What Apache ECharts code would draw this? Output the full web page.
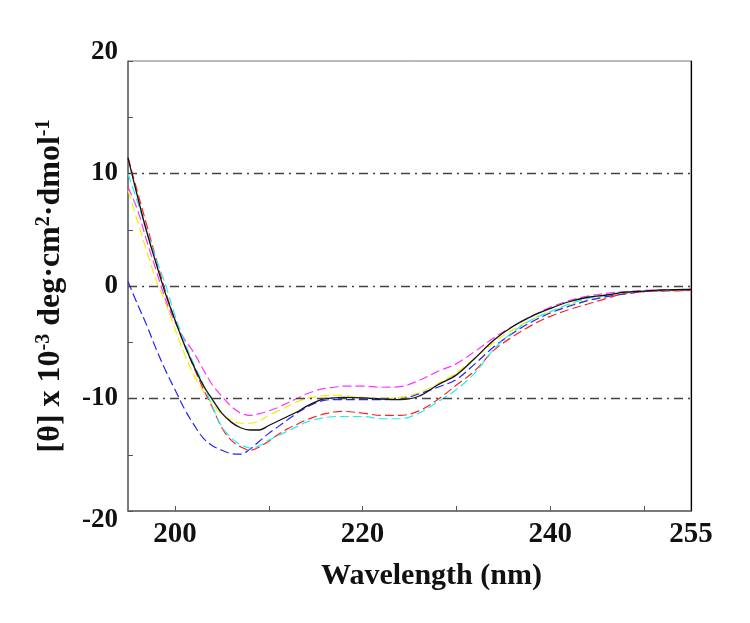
<!DOCTYPE html>
<html>
<head>
<meta charset="utf-8">
<script src="https://cdn.jsdelivr.net/npm/echarts@6/dist/echarts.min.js"></script>
<style>
html,body{margin:0;padding:0;background:#fff;}
#chart{width:750px;height:623px;}
</style>
</head>
<body>
<div id="chart"></div>
<script>
// Wavelength grid (nm)
const wavelengths = [195,196,197,198,199,200,201,202,203,204,205,206,207,208,209,210,211,212,213,214,215,216,217,218,220,222,224,226,228,230,232,234,236,238,240,242,244,246,248,250,252,255];

// Mean residue ellipticity values (x 10^-3 deg·cm²·dmol⁻¹)
const blackSolid = [11.4,8.0,4.8,2.0,-0.7,-3.0,-5.2,-7.1,-8.8,-10.1,-11.3,-12.1,-12.6,-12.8,-12.8,-12.4,-12.0,-11.6,-11.2,-10.7,-10.3,-10.0,-9.95,-9.9,-9.95,-10.05,-10.1,-9.8,-8.8,-7.9,-6.4,-4.8,-3.6,-2.7,-2.0,-1.4,-1.0,-0.8,-0.55,-0.45,-0.35,-0.3];
const magentaDash = [8.8,6.8,4.0,1.4,-1.2,-3.2,-4.7,-5.9,-7.4,-8.8,-9.8,-10.7,-11.3,-11.5,-11.35,-11.1,-10.8,-10.4,-10.0,-9.6,-9.3,-9.1,-9.0,-8.9,-8.9,-9.0,-8.95,-8.4,-7.6,-6.9,-5.8,-4.6,-3.6,-2.7,-1.9,-1.3,-0.9,-0.65,-0.5,-0.4,-0.35,-0.3];
const yellowDash = [8.5,5.8,3.1,0.5,-1.5,-3.8,-6.0,-7.9,-9.3,-10.5,-11.4,-11.9,-12.2,-12.2,-12.0,-11.5,-11.1,-10.7,-10.3,-10.0,-9.85,-9.75,-9.7,-9.75,-9.9,-10.0,-9.9,-9.5,-8.7,-7.7,-6.4,-5.0,-3.9,-3.0,-2.3,-1.7,-1.25,-0.95,-0.7,-0.5,-0.45,-0.4];
const blueDash = [0.4,-1.6,-3.5,-5.6,-7.5,-9.2,-10.9,-12.3,-13.5,-14.2,-14.6,-14.9,-14.95,-14.5,-13.8,-13.1,-12.5,-11.9,-11.3,-10.8,-10.4,-10.15,-10.1,-10.1,-10.1,-10.1,-10.05,-9.6,-9.0,-8.3,-6.9,-5.4,-4.2,-3.2,-2.4,-1.8,-1.3,-0.95,-0.7,-0.5,-0.4,-0.35];
const redDash = [11.4,8.4,5.4,2.4,-0.5,-3.0,-5.2,-7.2,-9.1,-10.8,-12.6,-13.7,-14.3,-14.6,-14.3,-13.8,-13.2,-12.7,-12.3,-11.9,-11.6,-11.35,-11.2,-11.15,-11.3,-11.5,-11.5,-11.1,-10.1,-8.8,-7.5,-5.7,-4.5,-3.5,-2.7,-2.1,-1.6,-1.1,-0.65,-0.5,-0.45,-0.4];
const cyanDash = [10.0,7.5,4.9,2.4,0.1,-2.6,-4.9,-6.9,-8.7,-10.7,-12.5,-13.5,-14.1,-14.4,-14.2,-13.7,-13.3,-12.9,-12.5,-12.1,-11.85,-11.7,-11.6,-11.6,-11.6,-11.8,-11.8,-11.3,-10.3,-9.2,-7.7,-5.6,-4.1,-3.0,-2.3,-1.6,-1.1,-0.8,-0.55,-0.45,-0.35,-0.3];

// Axis labels / reference lines
const xTickValues = [200,210,220,230,240,250];
const xLabelValues = [200,220,240,255];
const yRefLines = [10,0,-10];

const pair = arr => wavelengths.map((w,i)=>[w,arr[i]]);
const FONT = '"Liberation Serif","Times New Roman",serif';
const lblStyle = {fontFamily:FONT, fontWeight:'bold', fontSize:27, color:'#111'};

const chart = echarts.init(document.getElementById('chart'), null, {renderer:'canvas'});

function dashed(name, data, color){
  return {
    name, type:'line', data:pair(data), showSymbol:false, smooth:0.35,
    lineStyle:{color, width:1.2, type:[9,4]}, z:3
  };
}

const option = {
  backgroundColor:'#ffffff',
  animation:false,
  grid:{left:128, top:61, right:59, bottom:112, show:true, borderColor:'#777', borderWidth:1},
  xAxis:{
    type:'value', min:195, max:255, interval:5,
    name:'Wavelength (nm)', nameLocation:'middle', nameGap:50,
    nameTextStyle:{fontFamily:FONT, fontWeight:'bold', fontSize:30, color:'#111', padding:[0,0,0,44]},
    axisLine:{show:true, onZero:false, lineStyle:{color:'#666', width:1.5}},
    axisTick:{show:true, inside:true, length:5, customValues:xTickValues, lineStyle:{color:'#555'}},
    axisLabel:{customValues:xLabelValues, margin:9, fontFamily:FONT, fontWeight:'bold', fontSize:29, color:'#111'},
    splitLine:{show:false}
  },
  yAxis:[{
    type:'value', min:-20, max:20, interval:5,
    name:'{m|[θ] x 10}{s|-3}{m| deg·cm}{s|2}{m|·dmol}{s|-1}',
    nameLocation:'middle', nameGap:60, nameRotate:90,
    nameTextStyle:{
      rich:{
        m:{fontFamily:FONT, fontWeight:'bold', fontSize:32, color:'#111', lineHeight:34, verticalAlign:'middle'},
        s:{fontFamily:FONT, fontWeight:'bold', fontSize:20, color:'#111', lineHeight:34, verticalAlign:'top'}
      }
    },
    axisLine:{show:true, onZero:false, lineStyle:{color:'#666', width:1.5}},
    axisTick:{show:true, inside:true, length:5, lineStyle:{color:'#555'}},
    axisLabel:{margin:10, ...lblStyle,
      formatter:v => v === 20 ? '{t|20}' : v === -20 ? '{b|-20}' : (v % 10 === 0 ? String(v) : ''),
      rich:{
        t:{...lblStyle, padding:[0,0,18,0]},
        b:{...lblStyle, padding:[18,0,0,0]}
      }
    },
    splitLine:{show:false}
  },{
    type:'value', min:-20, max:20, position:'right',
    axisLine:{show:true, lineStyle:{color:'#000', width:1.2}},
    axisTick:{show:false}, axisLabel:{show:false}, splitLine:{show:false}
  }],
  series:[
    {
      name:'ref', type:'line', data:[], silent:true,
      markLine:{
        symbol:'none', silent:true, label:{show:false},
        lineStyle:{color:'#444', width:1.4, type:[9,5,2,5]},
        data: yRefLines.map(v=>({yAxis:v}))
      }
    },
    dashed('yellow', yellowDash, '#f0f000'),
    dashed('magenta', magentaDash, '#ff33ff'),
    dashed('blue', blueDash, '#2222ff'),
    dashed('red', redDash, '#ff2222'),
    dashed('cyan', cyanDash, '#22f0f0'),
    {name:'black', type:'line', data:pair(blackSolid), showSymbol:false, smooth:0.35,
      lineStyle:{color:'#111', width:1.3, type:'solid'}, z:4}
  ]
};
chart.setOption(option);
</script>
</body>
</html>
